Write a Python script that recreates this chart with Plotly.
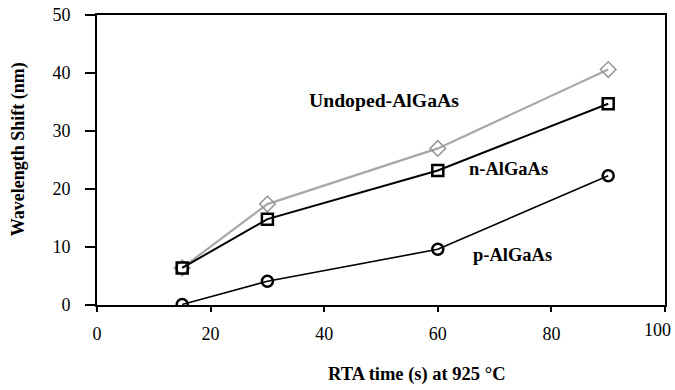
import plotly.graph_objects as go

# RTA time (s) and wavelength shift (nm) for each cladding type
rta_time = [15, 30, 60, 90]
undoped_shift = [6.4, 17.4, 27.0, 40.6]
n_shift = [6.4, 14.8, 23.2, 34.7]
p_shift = [0.1, 4.1, 9.6, 22.3]

x_ticks = [0, 20, 40, 60, 80, 100]
x_tick_text = ["0", "20", "40", "60", "80", "100"]
y_ticks = [0, 10, 20, 30, 40, 50]

serif = "Liberation Serif, Times New Roman, serif"

fig = go.Figure()
fig.add_trace(go.Scatter(
    x=rta_time, y=undoped_shift, mode="lines+markers",
    line=dict(color="#a8a8a8", width=2.2),
    marker=dict(symbol="diamond-open", size=12, color="#959595", line=dict(width=1.5)),
    name="Undoped-AlGaAs"))
fig.add_trace(go.Scatter(
    x=rta_time, y=n_shift, mode="lines+markers",
    line=dict(color="black", width=2),
    marker=dict(symbol="square-open", size=11, color="black", line=dict(width=2.5)),
    name="n-AlGaAs"))
fig.add_trace(go.Scatter(
    x=rta_time, y=p_shift, mode="lines+markers",
    line=dict(color="black", width=1.6),
    marker=dict(symbol="circle-open", size=11, color="black", line=dict(width=2.5)),
    name="p-AlGaAs"))

labels = [("Undoped-AlGaAs", 50.6, 35.3, 19.7), ("n-AlGaAs", 72.5, 23.4, 18.5),
          ("p-AlGaAs", 73.1, 8.6, 18.5)]
for text, lx, ly, fs in labels:
    fig.add_annotation(x=lx, y=ly, text=f"<b>{text}</b>", showarrow=False,
                       font=dict(family=serif, size=fs, color="black"))

# the last x tick label sits at the right edge, so it is drawn nudged inward
fig.add_annotation(x=x_ticks[-1], y=0, text=x_tick_text[-1], showarrow=False,
                   xanchor="right", yanchor="middle", xshift=8, yshift=-25,
                   font=dict(family=serif, size=18, color="black"))

fig.add_annotation(xref="paper", yref="paper", x=0.564, y=-0.241,
                   xanchor="center", yanchor="middle",
                   text="<b>RTA time (s) at 925 °C</b>", showarrow=False,
                   font=dict(family=serif, size=18.5, color="black"))
fig.add_annotation(xref="paper", yref="paper", x=-0.137, y=0.538, textangle=-90,
                   xanchor="center", yanchor="middle",
                   text="<b>Wavelength Shift (nm)</b>", showarrow=False,
                   font=dict(family=serif, size=18, color="black"))

fig.update_layout(
    width=675, height=390,
    margin=dict(l=97, r=10, t=15, b=85),
    paper_bgcolor="white", plot_bgcolor="white",
    showlegend=False,
    font=dict(family=serif, size=18, color="black"),
)
fig.update_xaxes(range=[0, 100], tickvals=x_ticks,
                 ticktext=x_tick_text[:-1] + [""], ticks="outside", ticklen=5,
                 tickwidth=1.5, tickcolor="black", showline=True, linecolor="black",
                 linewidth=2, mirror=True, showgrid=False, zeroline=False,
                 ticklabelstandoff=6, automargin=False)
fig.update_yaxes(range=[0, 50], tickvals=y_ticks, ticks="outside", ticklen=10,
                 tickwidth=1.5, tickcolor="black", showline=True, linecolor="black",
                 linewidth=2, mirror=True, showgrid=False, zeroline=False,
                 ticklabelstandoff=11, ticklabeloverflow="allow", automargin=False)

fig.write_html("out.html")
